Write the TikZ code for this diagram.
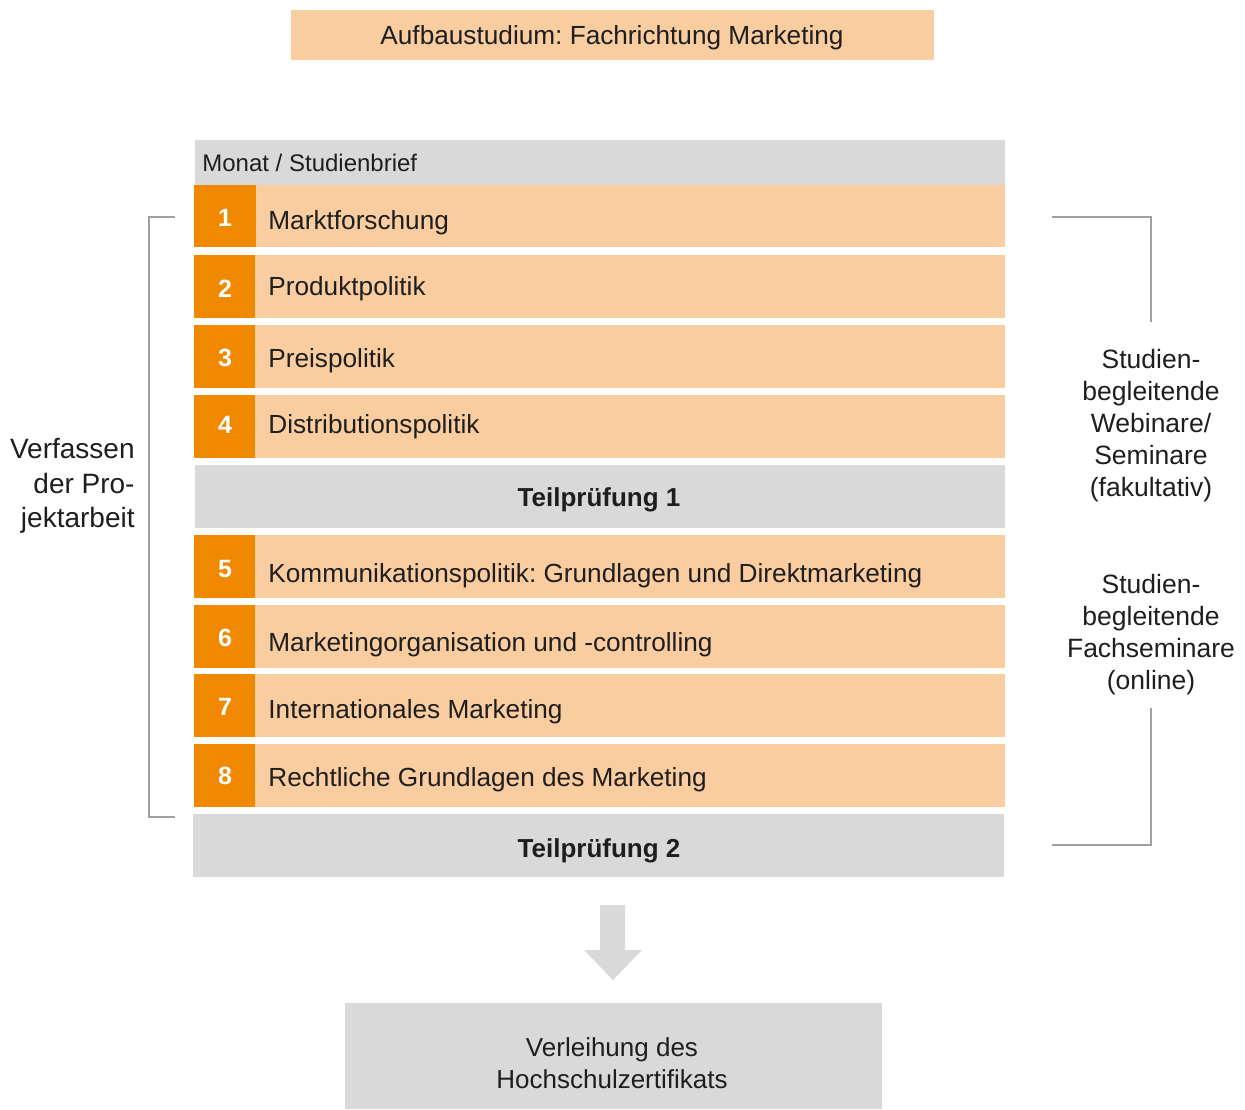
\documentclass[tikz,border=0pt]{standalone}
\usepackage{fontspec}
\setmainfont{Liberation Sans}
\frenchspacing
\definecolor{lorange}{RGB}{249,205,160}
\definecolor{dorange}{RGB}{240,136,0}
\definecolor{lgray}{RGB}{217,217,217}
\definecolor{bgray}{RGB}{160,160,160}
\definecolor{txt}{RGB}{30,30,30}
\begin{document}
\begin{tikzpicture}[x=0.5pt,y=-0.5pt,
  box/.style={draw=none,inner sep=0pt,outer sep=0pt,anchor=north west},
  rowbox/.style={box,fill=lorange,minimum width=405.5pt,minimum height=31.5pt},
  numbox/.style={box,fill=dorange,minimum width=31pt,minimum height=31.5pt},
  graybox/.style={box,fill=lgray,minimum width=405pt,minimum height=31.5pt},
  lbl/.style={inner sep=0pt,text height=0.72em,text depth=0pt,text=txt,font=\fontsize{13.1}{16}\selectfont},
  num/.style={inner sep=0pt,text height=0.72em,text depth=0pt,text=white,font=\fontsize{12.5}{15}\selectfont\bfseries},
  bracket/.style={draw=bgray,line width=1.4pt}]
\useasboundingbox (0,0) rectangle (1245,1109);
% title
\node[box,fill=lorange,minimum width=321.5pt,minimum height=25pt] (title) at (291,10) {};
\node[lbl] (titletext) at (612,37) {Aufbaustudium: Fachrichtung Marketing};
% header
\node[box,fill=lgray,minimum width=405pt,minimum height=22.5pt] (head) at (195,140) {};
\node[lbl,anchor=west,font=\fontsize{12}{14}\selectfont] (headtext) at (202,164) {Monat / Studienbrief};
% rows
\node[rowbox,minimum height=31pt] (r1) at (194,185) {};
\node[numbox,minimum height=31pt] (n1) at (194,185) {};
\node[rowbox] (r2) at (194,255) {};
\node[numbox,minimum width=30.5pt] (n2) at (194,255) {};
\node[rowbox] (r3) at (194,325) {};
\node[numbox,minimum width=30.5pt] (n3) at (194,325) {};
\node[rowbox] (r4) at (194,395) {};
\node[numbox,minimum width=30.5pt] (n4) at (194,395) {};
\node[graybox] (t1) at (195,465) {};
\node[rowbox] (r5) at (194,535) {};
\node[numbox,minimum width=30.5pt] (n5) at (194,535) {};
\node[rowbox] (r6) at (194,605) {};
\node[numbox,minimum width=30.5pt] (n6) at (194,605) {};
\node[rowbox] (r7) at (194,674) {};
\node[numbox,minimum width=30.5pt] (n7) at (194,674) {};
\node[rowbox] (r8) at (194,744) {};
\node[numbox,minimum width=30.5pt] (n8) at (194,744) {};
\node[graybox,minimum width=405.5pt] (t2) at (193,814) {};
% numbers
\node[num] (k1) at (225,219) {1};
\node[num] (k2) at (225,290) {2};
\node[num] (k3) at (225,359) {3};
\node[num] (k4) at (225,426) {4};
\node[num] (k5) at (225,570) {5};
\node[num] (k6) at (225,639) {6};
\node[num] (k7) at (225,708) {7};
\node[num] (k8) at (225,777) {8};
% row labels
\node[lbl,anchor=west] (l1) at (268,222) {Marktforschung};
\node[lbl,anchor=west] (l2) at (268,288) {Produktpolitik};
\node[lbl,anchor=west] (l3) at (268,360) {Preispolitik};
\node[lbl,anchor=west] (l4) at (268,426) {Distributionspolitik};
\node[lbl,font=\fontsize{13}{16}\selectfont\bfseries] (lt1) at (599,499) {Teilprüfung 1};
\node[lbl,anchor=west] (l5) at (268,575) {Kommunikationspolitik: Grundlagen und Direktmarketing};
\node[lbl,anchor=west] (l6) at (268,644) {Marketingorganisation und -controlling};
\node[lbl,anchor=west] (l7) at (268,711) {Internationales Marketing};
\node[lbl,anchor=west] (l8) at (268,779) {Rechtliche Grundlagen des Marketing};
\node[lbl,font=\fontsize{13}{16}\selectfont\bfseries] (lt2) at (599,850) {Teilprüfung 2};
% left bracket
\coordinate (lb1) at (175,217);
\coordinate (lb2) at (149,217);
\coordinate (lb3) at (149,817);
\coordinate (lb4) at (175,817);
\draw[bracket] (lb1) -- (lb2) -- (lb3) -- (lb4);
\node[inner sep=0pt,anchor=east,align=right,text=txt,font=\fontsize{14}{17.25}\selectfont] (left) at (135,486) {Verfassen\\der Pro-\\jektarbeit};
% right brackets
\coordinate (rb1) at (1052,217);
\coordinate (rb2) at (1151,217);
\coordinate (rb3) at (1151,322);
\coordinate (rb4) at (1151,708);
\coordinate (rb5) at (1151,845);
\coordinate (rb6) at (1052,845);
\draw[bracket] (rb1) -- (rb2) -- (rb3);
\draw[bracket] (rb4) -- (rb5) -- (rb6);
\node[inner sep=0pt,align=center,text=txt,font=\fontsize{13.25}{16}\selectfont] (right1) at (1151,426) {Studien-\\begleitende\\Webinare/\\Seminare\\(fakultativ)};
\node[inner sep=0pt,align=center,text=txt,font=\fontsize{13.25}{16}\selectfont] (right2) at (1151,635) {Studien-\\begleitende\\Fachseminare\\(online)};
% arrow
\fill[lgray] (600,905) -- (625,905) -- (625,950) -- (642,950) -- (613,980) -- (584,950) -- (600,950) -- cycle;
% final box
\node[box,fill=lgray,minimum width=268.5pt,minimum height=53pt] (final) at (345,1003) {};
\node[inner sep=0pt,align=center,text=txt,font=\fontsize{13}{16}\selectfont] (finaltext) at (612,1063) {Verleihung des\\Hochschulzertifikats};
\end{tikzpicture}
\end{document}
